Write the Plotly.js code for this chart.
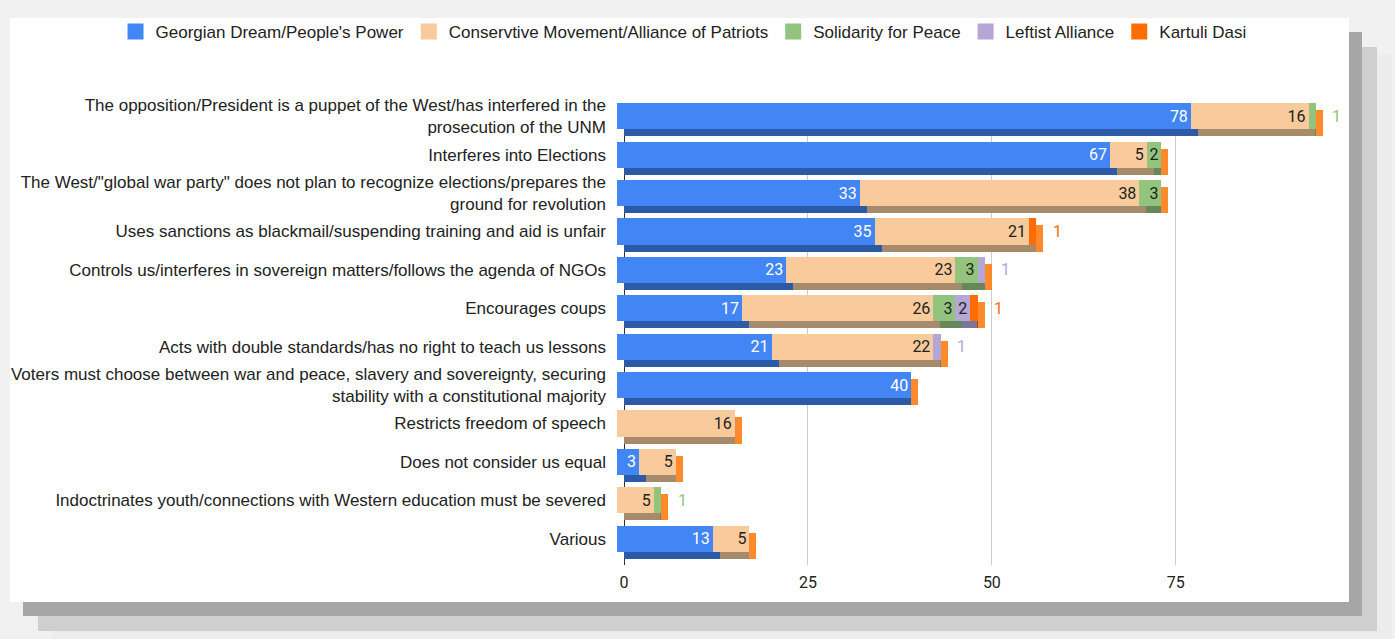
<!DOCTYPE html>
<html>
<head>
<meta charset="utf-8">
<script src="https://cdn.plot.ly/plotly-3.0.1.min.js"></script>
<style>
  html, body { margin:0; padding:0; background:#f1f1f1; width:1395px; height:639px; overflow:hidden; }
  #grafica {
    position:absolute; left:10px; top:18px; width:1339px; height:584px; background:#fff;
    box-shadow: 13px 14px 0 0 #a6a6a6, 28px 29px 0 0 #cfcfcf, 43px 37px 0 0 #ececec;
  }
</style>
</head>
<body>
<div id="grafica"></div>
<script>
// categories, top to bottom
const categorias = [
  "The opposition/President is a puppet of the West/has interfered in the<br>prosecution of the UNM",
  "Interferes into Elections",
  "The West/\"global war party\" does not plan to recognize elections/prepares the<br>ground for revolution",
  "Uses sanctions as blackmail/suspending training and aid is unfair",
  "Controls us/interferes in sovereign matters/follows the agenda of NGOs",
  "Encourages coups",
  "Acts with double standards/has no right to teach us lessons",
  "Voters must choose between war and peace, slavery and sovereignty, securing<br>stability with a constitutional majority",
  "Restricts freedom of speech",
  "Does not consider us equal",
  "Indoctrinates youth/connections with Western education must be severed",
  "Various"
];

const georgianDream = [78, 67, 33, 35, 23, 17, 21, 40, 0, 3, 0, 13];
const conservative  = [16, 5, 38, 21, 23, 26, 22, 0, 16, 5, 5, 5];
const solidarity    = [1, 2, 3, 0, 3, 3, 0, 0, 0, 0, 1, 0];
const leftist       = [0, 0, 0, 0, 1, 2, 1, 0, 0, 0, 0, 0];
const kartuliDasi   = [0, 0, 0, 1, 0, 1, 0, 0, 0, 0, 0, 0];

const nombres = [
  "Georgian Dream/People's Power",
  "Conservtive Movement/Alliance of Patriots",
  "Solidarity for Peace",
  "Leftist Alliance",
  "Kartuli Dasi"
];
const tickVals = [0, 25, 50, 75];

const series = [georgianDream, conservative, solidarity, leftist, kartuliDasi];
const colores = ['#4285f4', '#f9cb9c', '#93c47d', '#b4a7d6', '#ff6d01'];
const oscuros = ['#2d5aa6', '#a68a6c', '#65875a', '#7d7499', '#a84a05'];
const textoColor = ['#ffffff', '#222222', '#222222', '#222222', '#222222'];
const lado = '#ff8a2c';

// pixel helpers (div is 1339 x 584)
const W = 1339, H = 584, D = 7;
const fx0 = 617 - 10, fx1 = 1338 - 10, fy0 = 97 - 18, fy1 = 558 - 18;
const px = v => v / W;
const py = v => 1 - v / H;
const xMax = 98;
const ladoUnits = D * xMax / (fx1 - fx0);

const traces = [];

// shadow (bottom/side faces) on x/y, shifted down-right
const ultimo = categorias.map((c, i) => {
  let k = -1;
  series.forEach((s, j) => { if (s[i] > 0) k = j; });
  return k;
});
series.forEach((s, j) => {
  traces.push({
    type: 'bar', orientation: 'h',
    y: categorias,
    x: s.map((v, i) => ultimo[i] === j ? Math.max(v - ladoUnits, 0) : v),
    xaxis: 'x', yaxis: 'y',
    marker: { color: oscuros[j], line: { width: 0 } },
    width: 0.68, showlegend: false, hoverinfo: 'skip'
  });
});
traces.push({
  type: 'bar', orientation: 'h',
  y: categorias,
  x: categorias.map((c, i) => ultimo[i] >= 0 ? ladoUnits : 0),
  xaxis: 'x', yaxis: 'y',
  marker: { color: lado, line: { width: 0 } },
  width: 0.68, showlegend: false, hoverinfo: 'skip'
});

// front faces
series.forEach((s, j) => {
  traces.push({
    type: 'bar', orientation: 'h',
    name: nombres[j],
    y: categorias,
    x: s,
    xaxis: 'x2', yaxis: 'y2',
    marker: { color: colores[j], line: { width: 0 } },
    width: 0.68,
    text: s.map(v => v >= 2 ? String(v) : ''),
    textposition: 'inside',
    insidetextanchor: 'end',
    textangle: 0,
    textfont: { family: 'Roboto, Arial, sans-serif', size: 16, color: textoColor[j] },
    cliponaxis: false,
    showlegend: false
  });
});

// legend entries (square swatches)
series.forEach((s, j) => {
  traces.push({
    type: 'scatter', mode: 'markers',
    name: nombres[j],
    x: [null], y: [null],
    xaxis: 'x2', yaxis: 'y2',
    marker: { symbol: 'square', size: 16, color: colores[j] },
    hoverinfo: 'skip'
  });
});

// small values drawn outside the stack
const annotations = [];
categorias.forEach((c, i) => {
  const total = series.reduce((a, s) => a + s[i], 0);
  series.forEach((s, j) => {
    if (s[i] === 1) {
      annotations.push({
        xref: 'x2', yref: 'y2', x: total, y: c,
        text: '1', showarrow: false, xanchor: 'center', xshift: 21,
        font: { family: 'Roboto, Arial, sans-serif', size: 16, color: colores[j] }
      });
    }
  });
});

const layout = {
  width: W, height: H,
  margin: { l: 0, r: 0, t: 0, b: 0, autoexpand: false },
  paper_bgcolor: '#ffffff',
  plot_bgcolor: 'rgba(0,0,0,0)',
  barmode: 'stack',
  font: { family: 'Arial, "Liberation Sans", sans-serif', size: 17, color: '#222222' },
  showlegend: true,
  legend: {
    orientation: 'h', x: 0.503, xanchor: 'center', y: 1.007, yanchor: 'top',
    font: { size: 17, color: '#222222' }, traceorder: 'normal',
    itemwidth: 30
  },
  uniformtext: { mode: 'show', minsize: 16 },
  xaxis: {
    domain: [px(fx0 + D), px(fx1 + D)],
    anchor: 'y',
    range: [0, xMax],
    tickvals: tickVals,
    ticktext: tickVals.map(String),
    showgrid: true, gridcolor: '#cccccc', gridwidth: 1,
    zeroline: true, zerolinecolor: '#333333', zerolinewidth: 1,
    showline: false, ticks: '',
    ticklabelstandoff: 6,
    tickfont: { family: 'Roboto, Arial, sans-serif', size: 16, color: '#222222' }
  },
  yaxis: {
    domain: [py(fy1 + D), py(fy0 + D)],
    anchor: 'x',
    type: 'category',
    categoryorder: 'array', categoryarray: categorias,
    range: [categorias.length - 0.5, -0.5],
    showticklabels: false, showgrid: false, zeroline: false, ticks: ''
  },
  xaxis2: {
    domain: [px(fx0), px(fx1)],
    anchor: 'y2',
    range: [0, xMax],
    showticklabels: false, showgrid: false, zeroline: false, ticks: ''
  },
  yaxis2: {
    domain: [py(fy1), py(fy0)],
    anchor: 'x2',
    type: 'category',
    categoryorder: 'array', categoryarray: categorias,
    range: [categorias.length - 0.5, -0.5],
    showgrid: false, zeroline: false, ticks: '',
    ticklabelstandoff: 10,
    tickfont: { family: 'Arial, "Liberation Sans", sans-serif', size: 17, color: '#222222' }
  },
  annotations: annotations
};

Plotly.newPlot('grafica', traces, layout, { displayModeBar: false, responsive: false });
</script>
</body>
</html>
